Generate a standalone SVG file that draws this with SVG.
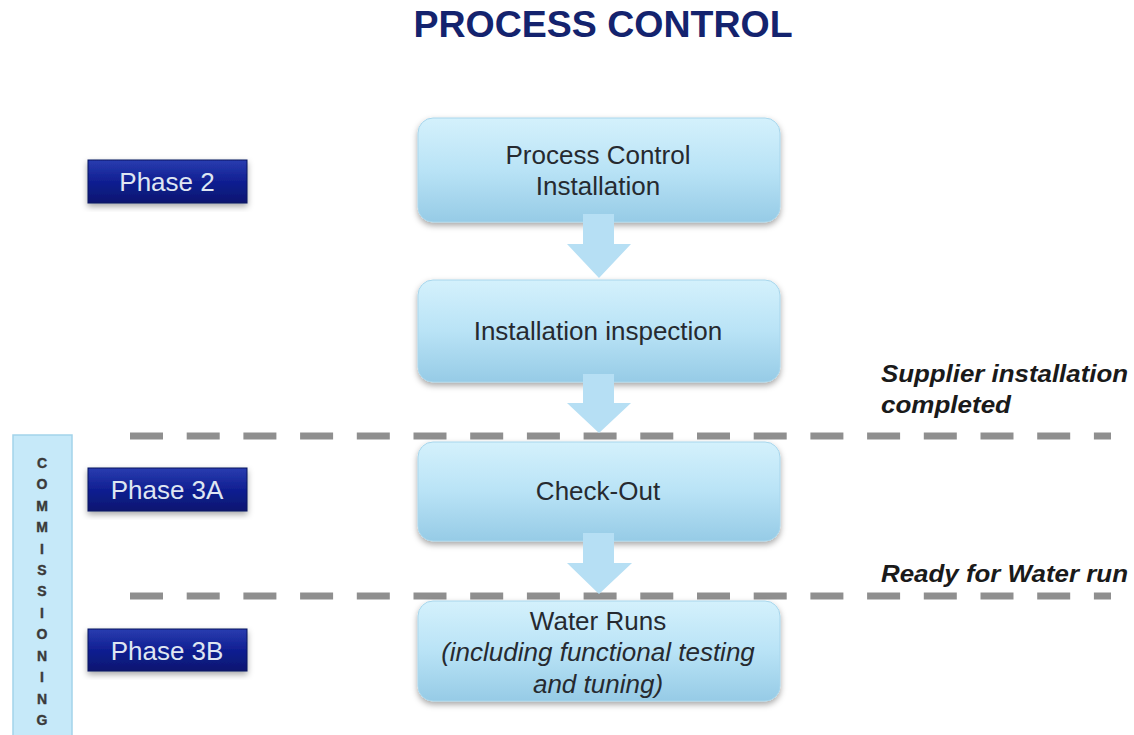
<svg xmlns="http://www.w3.org/2000/svg" width="1134" height="735" viewBox="0 0 1134 735">
  <defs>
    <linearGradient id="boxGrad" x1="0" y1="0" x2="0" y2="1">
      <stop offset="0" stop-color="#d4f1fc"/>
      <stop offset="0.5" stop-color="#b9e3f6"/>
      <stop offset="1" stop-color="#96cbe6"/>
    </linearGradient>
    <linearGradient id="phaseGrad" x1="0" y1="0" x2="0" y2="1">
      <stop offset="0" stop-color="#2a3db0"/>
      <stop offset="0.5" stop-color="#101f92"/>
      <stop offset="1" stop-color="#0a1670"/>
    </linearGradient>
    <filter id="shadow" x="-10%" y="-10%" width="120%" height="130%">
      <feDropShadow dx="0" dy="3" stdDeviation="3" flood-color="#000" flood-opacity="0.35"/>
    </filter>
    <style>
      .box { fill: url(#boxGrad); stroke: #a8d6ec; stroke-width: 1; filter: url(#shadow); }
      .phase { fill: url(#phaseGrad); stroke: #0a145e; stroke-width: 1; filter: url(#shadow); }
      .boxText { font-family: "Liberation Sans", Arial, sans-serif; font-size: 26px; fill: #262a30; text-anchor: middle; }
      .ital { font-style: italic; }
      .phaseText { font-family: "Liberation Sans", Arial, sans-serif; font-size: 26px; fill: #dfe6f2; text-anchor: middle; }
      .note { font-family: "Liberation Sans", Arial, sans-serif; font-size: 24px; font-weight: bold; font-style: italic; fill: #1a1a1a; }
      .dash { stroke: #8f8f8f; stroke-width: 7; stroke-dasharray: 33 23.7; fill: none; }
      .arrow { fill: #b6dff4; }
      .comm { font-family: "Liberation Sans", Arial, sans-serif; font-size: 14px; font-weight: bold; fill: #3a3a3a; text-anchor: middle; stroke: #3a3a3a; stroke-width: 0.4; }
    </style>
  </defs>
  <rect width="1134" height="735" fill="#ffffff"/>

  <text x="603" y="37" font-family="Liberation Sans, Arial, sans-serif" font-size="37.5" font-weight="bold" fill="#14236e" text-anchor="middle">PROCESS CONTROL</text>

  <g id="commissioning">
    <rect x="13" y="435" width="59" height="305" fill="#c6e9f9" stroke="#a3d3ea" stroke-width="1.5"/>
    <text class="comm" x="42" y="468">C</text>
    <text class="comm" x="42" y="489">O</text>
    <text class="comm" x="42" y="511">M</text>
    <text class="comm" x="42" y="532">M</text>
    <text class="comm" x="42" y="554">I</text>
    <text class="comm" x="42" y="575">S</text>
    <text class="comm" x="42" y="596">S</text>
    <text class="comm" x="42" y="618">I</text>
    <text class="comm" x="42" y="639">O</text>
    <text class="comm" x="42" y="661">N</text>
    <text class="comm" x="42" y="682">I</text>
    <text class="comm" x="42" y="704">N</text>
    <text class="comm" x="42" y="725">G</text>
  </g>

  <g id="separators">
    <line class="dash" x1="130" y1="436" x2="1111" y2="436"/>
    <line class="dash" x1="130" y1="596" x2="1111" y2="596"/>
  </g>

  <g id="phase2">
    <rect class="phase" x="88" y="160" width="159" height="43"/>
    <text class="phaseText" x="167" y="191">Phase 2</text>
  </g>
  <g id="phase3a">
    <rect class="phase" x="88" y="468" width="159" height="43"/>
    <text class="phaseText" x="167" y="499">Phase 3A</text>
  </g>
  <g id="phase3b">
    <rect class="phase" x="88" y="629" width="159" height="42"/>
    <text class="phaseText" x="167" y="660">Phase 3B</text>
  </g>

  <g id="box-install">
    <rect class="box" x="418" y="118" width="362" height="104" rx="15"/>
    <text class="boxText" x="598" y="164">Process Control</text>
    <text class="boxText" x="598" y="195">Installation</text>
  </g>
  <g id="box-inspection">
    <rect class="box" x="418" y="280" width="362" height="102" rx="15"/>
    <text class="boxText" x="598" y="340">Installation inspection</text>
  </g>
  <g id="box-checkout">
    <rect class="box" x="418" y="442" width="362" height="99" rx="15"/>
    <text class="boxText" x="598" y="500">Check-Out</text>
  </g>
  <g id="box-water">
    <rect class="box" x="418" y="601" width="362" height="100" rx="15"/>
    <text class="boxText" x="598" y="630">Water Runs</text>
    <text class="boxText ital" x="598" y="661">(including functional testing</text>
    <text class="boxText ital" x="598" y="693">and tuning)</text>
  </g>

  <g id="connectors">
    <polygon class="arrow" points="583,214 614,214 614,244 631,244 599,278 567,244 583,244"/>
    <polygon class="arrow" points="583,374 614,374 614,403 631,403 599,433 567,403 583,403"/>
    <polygon class="arrow" points="583,533 614,533 614,563 632,563 599,594 567,563 583,563"/>
  </g>

  <g id="notes">
    <text class="note" x="881" y="382" textLength="247" lengthAdjust="spacingAndGlyphs">Supplier installation</text>
    <text class="note" x="881" y="413" textLength="130" lengthAdjust="spacingAndGlyphs">completed</text>
    <text class="note" x="881" y="582" textLength="247" lengthAdjust="spacingAndGlyphs">Ready for Water run</text>
  </g>
</svg>
